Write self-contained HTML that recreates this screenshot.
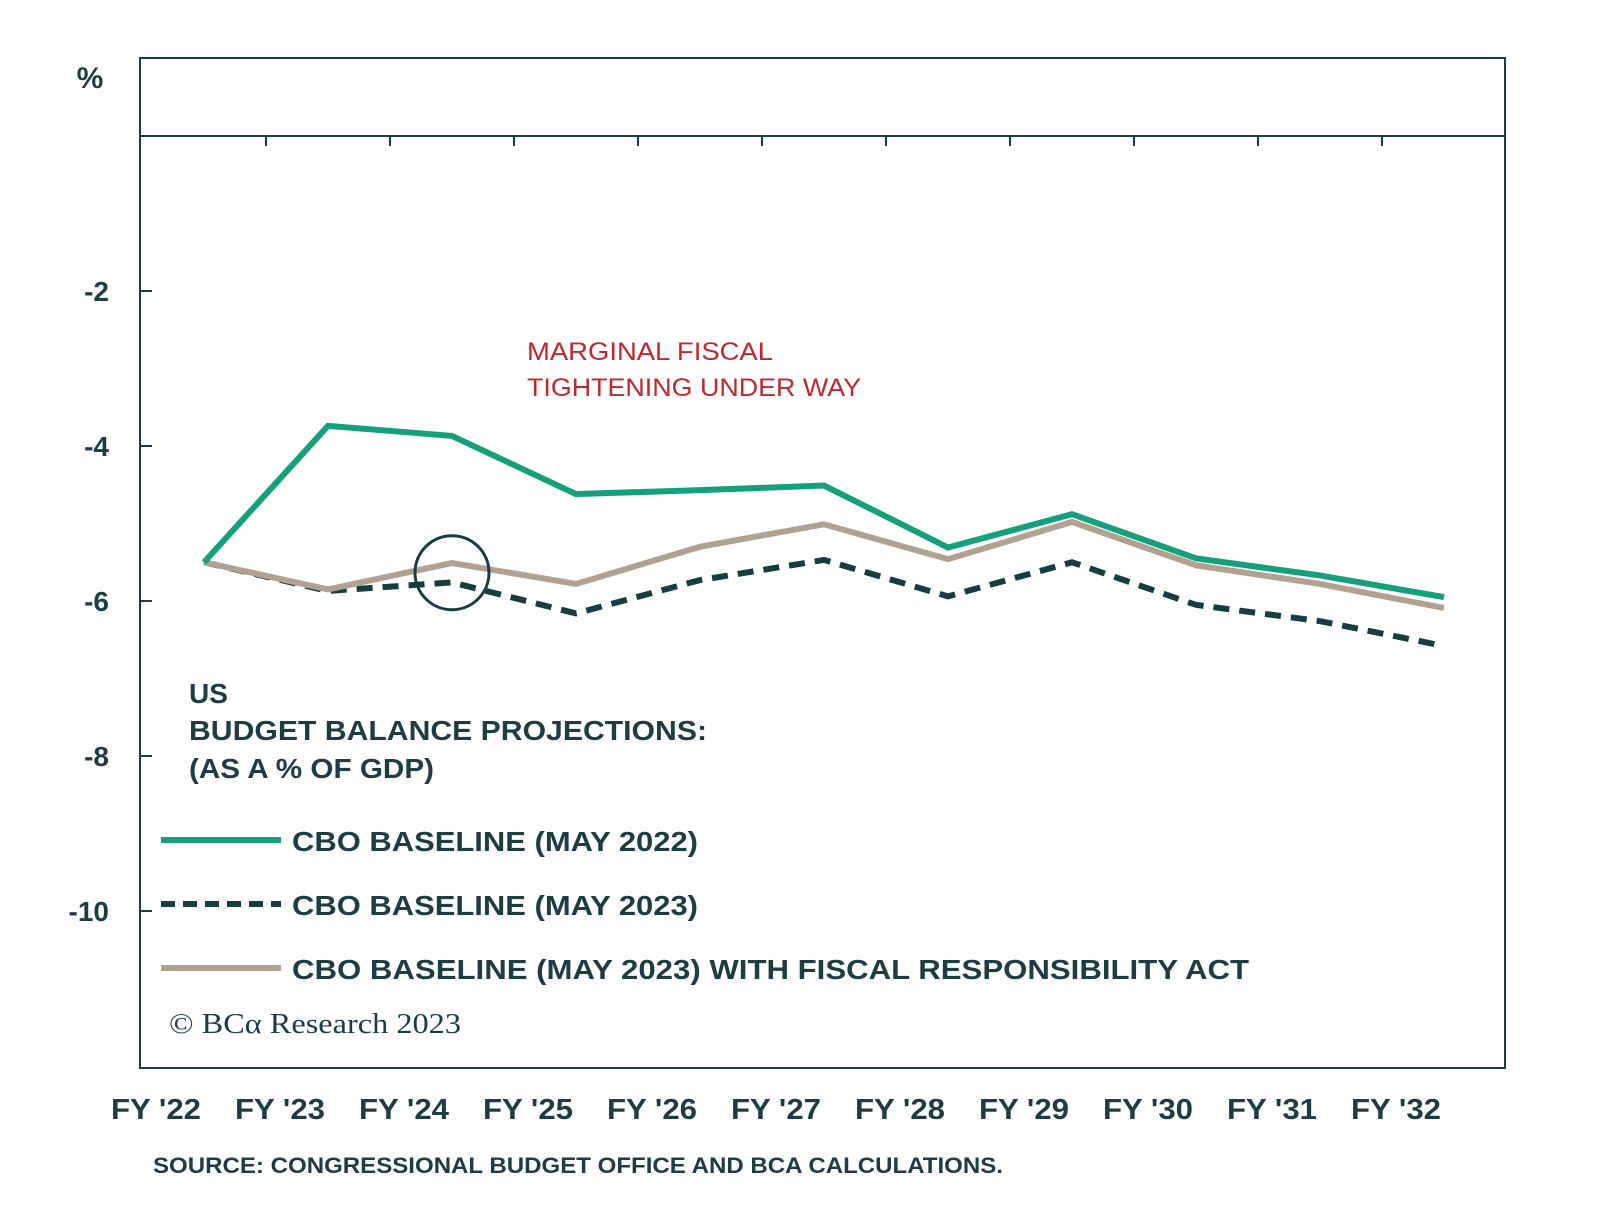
<!DOCTYPE html>
<html><head><meta charset="utf-8"><style>
html,body{margin:0;padding:0;background:#fff;}
svg{display:block;font-family:"Liberation Sans",sans-serif;}
</style></head><body>
<svg id="chart" width="1600" height="1214" viewBox="0 0 1600 1214">
<rect x="140" y="58" width="1365" height="1010" fill="none" stroke="#1d3c44" stroke-width="2"/>
<line x1="140" y1="136" x2="1505" y2="136" stroke="#1d3c44" stroke-width="2"/>
<text x="90" y="88" font-size="30" font-weight="bold" fill="#1d3c44" text-anchor="middle">%</text>
<g id="yaxis"></g>
<g id="xaxis"></g>
<g id="series"></g>
<text font-size="25" fill="#c0282d"><tspan x="527" y="360" textLength="246" lengthAdjust="spacingAndGlyphs">MARGINAL FISCAL</tspan><tspan x="527" y="396" textLength="334" lengthAdjust="spacingAndGlyphs">TIGHTENING UNDER WAY</tspan></text>
<text font-size="28" font-weight="bold" fill="#1d3c44"><tspan x="189" y="703">US</tspan><tspan x="189" y="740" textLength="518" lengthAdjust="spacingAndGlyphs">BUDGET BALANCE PROJECTIONS:</tspan><tspan x="189" y="778" textLength="245" lengthAdjust="spacingAndGlyphs">(AS A % OF GDP)</tspan></text>
<g>
<line x1="161" y1="840" x2="281" y2="840" stroke="#14a07a" stroke-width="6"/>
<text x="292" y="851" font-size="28" font-weight="bold" fill="#1d3c44" textLength="406" lengthAdjust="spacingAndGlyphs">CBO BASELINE (MAY 2022)</text>
<line x1="161" y1="904" x2="281" y2="904" stroke="#163d40" stroke-width="6" stroke-dasharray="14,8"/>
<text x="292" y="915" font-size="28" font-weight="bold" fill="#1d3c44" textLength="406" lengthAdjust="spacingAndGlyphs">CBO BASELINE (MAY 2023)</text>
<line x1="161" y1="968" x2="281" y2="968" stroke="#b0a192" stroke-width="6"/>
<text x="292" y="979" font-size="28" font-weight="bold" fill="#1d3c44" textLength="957" lengthAdjust="spacingAndGlyphs">CBO BASELINE (MAY 2023)  WITH FISCAL RESPONSIBILITY ACT</text>
</g>
<text x="169" y="1033" font-size="29" font-family="'Liberation Serif',serif" fill="#1d3c44" textLength="292" lengthAdjust="spacingAndGlyphs">© BCα Research 2023</text>
<text x="153" y="1173" font-size="22" font-weight="bold" fill="#1d3c44" textLength="850" lengthAdjust="spacingAndGlyphs">SOURCE: CONGRESSIONAL BUDGET OFFICE AND BCA CALCULATIONS.</text>
</svg>
<script>
const categories = ["FY '22","FY '23","FY '24","FY '25","FY '26","FY '27","FY '28","FY '29","FY '30","FY '31","FY '32"];
const cbo2022 = [-5.5,-3.74,-3.87,-4.62,-4.57,-4.51,-5.31,-4.88,-5.45,-5.67,-5.95];
const cbo2023 = [-5.5,-5.87,-5.76,-6.16,-5.73,-5.47,-5.94,-5.5,-6.05,-6.26,-6.58];
const cbo2023fra = [-5.5,-5.85,-5.51,-5.78,-5.3,-5.01,-5.46,-4.98,-5.54,-5.78,-6.09];
const yTicks = [-2,-4,-6,-8,-10];
const highlightIndex = 2;

const NS = "http://www.w3.org/2000/svg";
function xPos(i){ return 204 + 124*i; }
function yPos(v){ return 136 - v*77.5; }
function mk(tag, attrs, parent){ const e=document.createElementNS(NS,tag); for(const k in attrs) e.setAttribute(k,attrs[k]); parent.appendChild(e); return e; }

const yaxis=document.getElementById('yaxis');
yTicks.forEach(v=>{
  const t=mk('line',{x1:140,x2:152,y1:yPos(v),y2:yPos(v),stroke:'#1d3c44','stroke-width':2},yaxis);
  
  
  const l=mk('text',{x:109,y:yPos(v)+10,'font-size':28,'font-weight':'bold',fill:'#1d3c44','text-anchor':'end'},yaxis);
  l.textContent=String(v);
  
  
});
const xaxis=document.getElementById('xaxis');
categories.forEach((c,i)=>{
  if(i<categories.length-1){
    const t=mk('line',{x1:xPos(i)+62,x2:xPos(i)+62,y1:136,y2:146,stroke:'#1d3c44','stroke-width':2},xaxis);
    
    
  }
  const l=mk('text',{x:xPos(i)-93,y:1119,'font-size':29,'font-weight':'bold',fill:'#1d3c44',textLength:90,lengthAdjust:'spacingAndGlyphs'},xaxis);
  l.textContent=c;
  
  
});
const series=document.getElementById('series');
function line(vals,color,dash,name){
  const p=mk('polyline',{points:vals.map((v,i)=>xPos(i)+','+yPos(v)).join(' '),fill:'none',stroke:color,'stroke-width':6,'stroke-linejoin':'miter'},series);
  if(dash) p.setAttribute('stroke-dasharray',dash);
  
  
}
line(cbo2023,'#163d40','16,10','line-cbo-2023');
line(cbo2023fra,'#b0a192',null,'line-cbo-2023-fra');
line(cbo2022,'#14a07a',null,'line-cbo-2022');
const cy=(yPos(cbo2023fra[highlightIndex])+yPos(cbo2023[highlightIndex]))/2;
const circ=mk('circle',{cx:xPos(highlightIndex),cy:cy,r:37,fill:'none',stroke:'#163d40','stroke-width':3},series);


</script>
</body></html>
